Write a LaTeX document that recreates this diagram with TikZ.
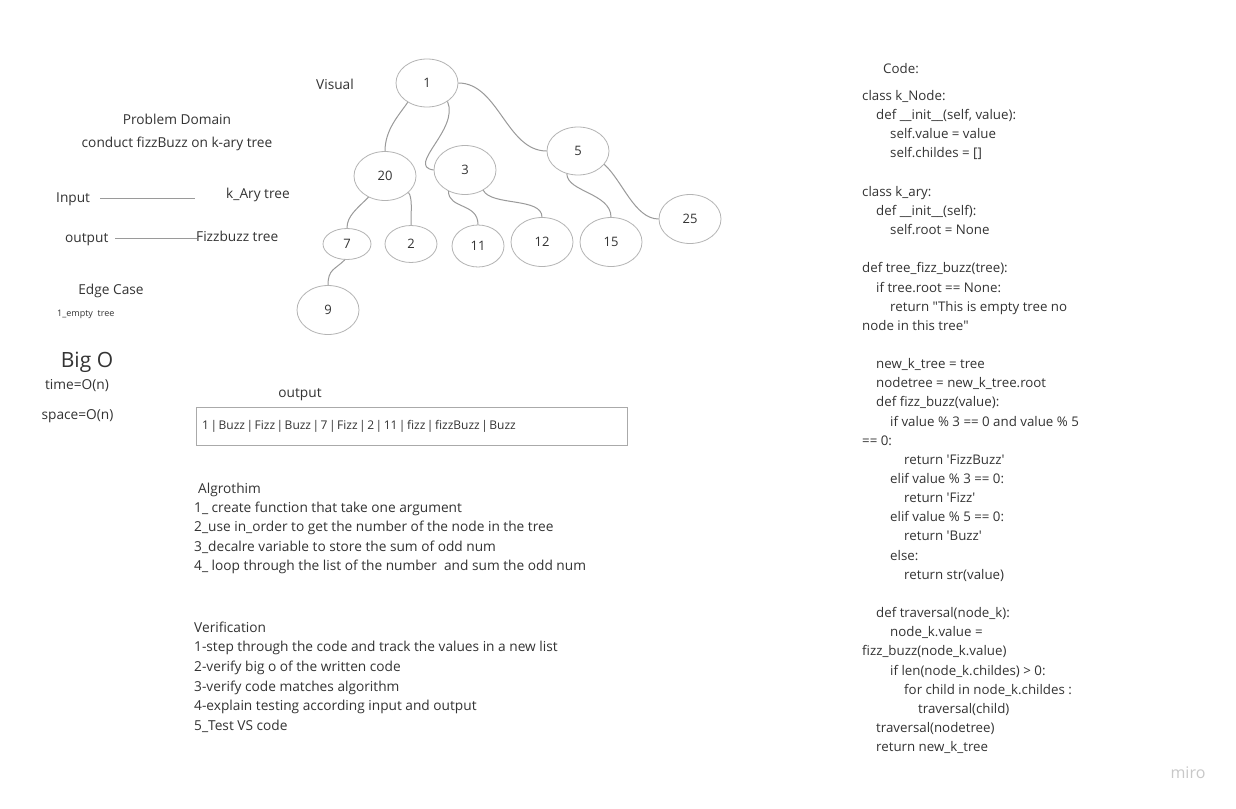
\documentclass[tikz,border=0pt]{standalone}
\usepackage{fontspec}
\setmainfont{Open Sans}
\usetikzlibrary{shapes.geometric}
\definecolor{txt}{HTML}{333333}
\definecolor{edgec}{HTML}{9A9A9A}
\definecolor{ring}{HTML}{B4B4B4}
\definecolor{boxc}{HTML}{AAAAAA}
\definecolor{logo}{HTML}{C8C8C8}
\newcommand{\pipesep}{\hspace{1.5pt}|\hspace{1.5pt}}
\tikzset{
  tn/.style={ellipse,draw=ring,line width=0.8pt,inner sep=0pt,text=txt,font=\fontsize{13}{15}\selectfont},
  big/.style={tn,minimum width=62pt,minimum height=49pt},
  tedge/.style={draw=edgec,line width=1pt},
  lbl/.style={text=txt,inner sep=0pt,font=\fontsize{13.7}{16}\selectfont},
  lblw/.style={lbl,anchor=base west},
  codel/.style={text=txt,inner sep=0pt,anchor=base west,font=\fontsize{13.3}{15}\selectfont},
  rule/.style={draw=edgec,line width=0.8pt}
}
\begin{document}
\begin{tikzpicture}[x=1pt,y=-1pt]
\useasboundingbox[fill=white] (0,0) rectangle (1236,808);

% ---- tree nodes
\node[big,minimum width=62pt,minimum height=48pt] (n1) at (427,83) {1};
\node[big] (n20) at (385,176) {20};
\node[big] (n3) at (465,170) {3};
\node[big,minimum height=48pt] (n5) at (578,151) {5};
\node[big] (n25) at (690,219) {25};
\node[tn,minimum width=48pt,minimum height=31pt] (n7) at (347,244) {7};
\node[tn,minimum width=52pt,minimum height=37pt] (n2) at (411,244) {2};
\node[tn,minimum width=52pt,minimum height=42pt] (n11) at (478,246) {11};
\node[big] (n12) at (542,242) {12};
\node[big] (n15) at (611,242) {15};
\node[big] (n9) at (328,310) {9};

% ---- tree edges
\draw[tedge] (n1.225) .. controls +(-8,12) and +(0,-22) .. (n20.north);
\draw[tedge] (n1.318) .. controls +(12,28) and +(-28,-4) .. (n3.180);
\draw[tedge] (n1.east) .. controls +(40,0) and +(-40,0) .. (n5.west);
\draw[tedge] (n20.232) .. controls +(-12,12) and +(0,-12) .. (n7.north);
\draw[tedge] (n20.325) .. controls +(4,6) and +(0,-16) .. (n2.north);
\draw[tedge] (n3.232) .. controls +(0,18) and +(0,-22) .. (n11.north);
\draw[tedge] (n3.312) .. controls +(8,16) and +(0,-20) .. (n12.north);
\draw[tedge] (n5.244) .. controls +(0,18) and +(0,-24) .. (n15.north);
\draw[tedge] (n5.333) .. controls +(18,16) and +(-24,0) .. (n25.west);
\draw[tedge] (n7.262) .. controls +(-10,10) and +(0,-16) .. (n9.north);

% ---- left texts
\node[lbl] (visual) at (335,84) {Visual};
\node[lbl] (pd) at (177,119) {Problem Domain};
\node[lbl] (pdt) at (177,144) {conduct fizzBuzz on k-ary tree};
\node[lblw] (inp) at (56,202.5) {Input};
\coordinate (inA) at (100,198);
\coordinate (inB) at (195,198);
\draw[rule] (inA) -- (inB);
\node[lblw] (kary) at (226,198.5) {k\_Ary tree};
\node[lblw] (outp) at (65,242.5) {output};
\coordinate (outA) at (115,238);
\coordinate (outB) at (197,238);
\draw[rule] (outA) -- (outB);
\node[lblw] (fbt) at (196,241.5) {Fizzbuzz tree};
\node[lbl] (edge) at (111,290.5) {Edge Case};
\node[text=txt,inner sep=0pt,anchor=base west,font=\fontsize{9}{11}\selectfont] (empty) at (57,316) {1\_empty\ \ tree};
\node[lbl,font=\fontsize{21}{24}\selectfont] (bigo) at (87,362) {Big O};
\node[lbl] (time) at (77,386) {time=O(n)};
\node[lbl] (space) at (77.5,416) {space=O(n)};

% ---- output box
\node[lbl] (outl) at (300,395) {output};
\node[draw=boxc,line width=1pt,minimum width=431pt,minimum height=38pt,inner sep=0pt] (obox) at (411.5,426) {};
\node[text=txt,inner sep=0pt,anchor=base west,font=\fontsize{12}{14}\selectfont] (otext) at (202,429.5) {1\pipesep Buzz\pipesep Fizz\pipesep Buzz\pipesep 7\pipesep Fizz\pipesep 2\pipesep 11\pipesep fizz\pipesep fizzBuzz\pipesep Buzz};

% ---- algorithm
\node[lblw] (alg) at (198,493.5) {Algrothim};
\node[lblw] (a1) at (194,512.5) {1\_ create function that take one argument};
\node[lblw] (a2) at (194,531.5) {2\_use in\_order to get the number of the node in the tree};
\node[lblw] (a3) at (194,551.5) {3\_decalre variable to store the sum of odd num};
\node[lblw] (a4) at (194,570.5) {4\_ loop through the list of the number\ \ and sum the odd num};

% ---- verification
\node[lblw] (ver) at (194,632.5) {Verification};
\node[lblw] (v1) at (194,651.5) {1-step through the code and track the values in a new list};
\node[lblw] (v2) at (194,671.5) {2-verify big o of the written code};
\node[lblw] (v3) at (194,691.5) {3-verify code matches algorithm};
\node[lblw] (v4) at (194,710.5) {4-explain testing according input and output};
\node[lblw] (v5) at (194,730.5) {5\_Test VS code};

% ---- code
\node[codel] (code) at (883,73.5) {Code:};
\node[codel] (c0) at (862,100.5) {class k\_Node:};
\node[codel] (c1) at (876,119.65) {def \_\_init\_\_(self, value):};
\node[codel] (c2) at (890,138.8) {self.value = value};
\node[codel] (c3) at (890,157.95) {self.childes = []};
\node[codel] (c5) at (862,196.25) {class k\_ary:};
\node[codel] (c6) at (876,215.4) {def \_\_init\_\_(self):};
\node[codel] (c7) at (890,234.55) {self.root = None};
\node[codel] (c9) at (862,272.85) {def tree\_fizz\_buzz(tree):};
\node[codel] (c10) at (876,292.0) {if tree.root == None:};
\node[codel] (c11) at (890,311.15) {return \textquotedbl This is empty tree no};
\node[codel] (c12) at (862,330.3) {node in this tree\textquotedbl};
\node[codel] (c14) at (876,368.6) {new\_k\_tree = tree};
\node[codel] (c15) at (876,387.75) {nodetree = new\_k\_tree.root};
\node[codel] (c16) at (876,406.9) {def fizz\_buzz(value):};
\node[codel] (c17) at (890,426.05) {if value \% 3 == 0 and value \% 5};
\node[codel] (c18) at (862,445.2) {== 0:};
\node[codel] (c19) at (904,464.35) {return \textquotesingle FizzBuzz\textquotesingle};
\node[codel] (c20) at (890,483.5) {elif value \% 3 == 0:};
\node[codel] (c21) at (904,502.65) {return \textquotesingle Fizz\textquotesingle};
\node[codel] (c22) at (890,521.8) {elif value \% 5 == 0:};
\node[codel] (c23) at (904,540.95) {return \textquotesingle Buzz\textquotesingle};
\node[codel] (c24) at (890,560.1) {else:};
\node[codel] (c25) at (904,579.25) {return str(value)};
\node[codel] (c27) at (876,617.55) {def traversal(node\_k):};
\node[codel] (c28) at (890,636.7) {node\_k.value =};
\node[codel] (c29) at (862,655.85) {fizz\_buzz(node\_k.value)};
\node[codel] (c30) at (890,675.0) {if len(node\_k.childes) > 0:};
\node[codel] (c31) at (904,694.15) {for child in node\_k.childes :};
\node[codel] (c32) at (918,713.3) {traversal(child)};
\node[codel] (c33) at (876,732.45) {traversal(nodetree)};
\node[codel] (c34) at (876,751.6) {return new\_k\_tree};

% ---- logo
\node[text=logo,inner sep=0pt,font=\fontsize{16}{18}\selectfont] (miro) at (1188,773) {miro};
\end{tikzpicture}
\end{document}
